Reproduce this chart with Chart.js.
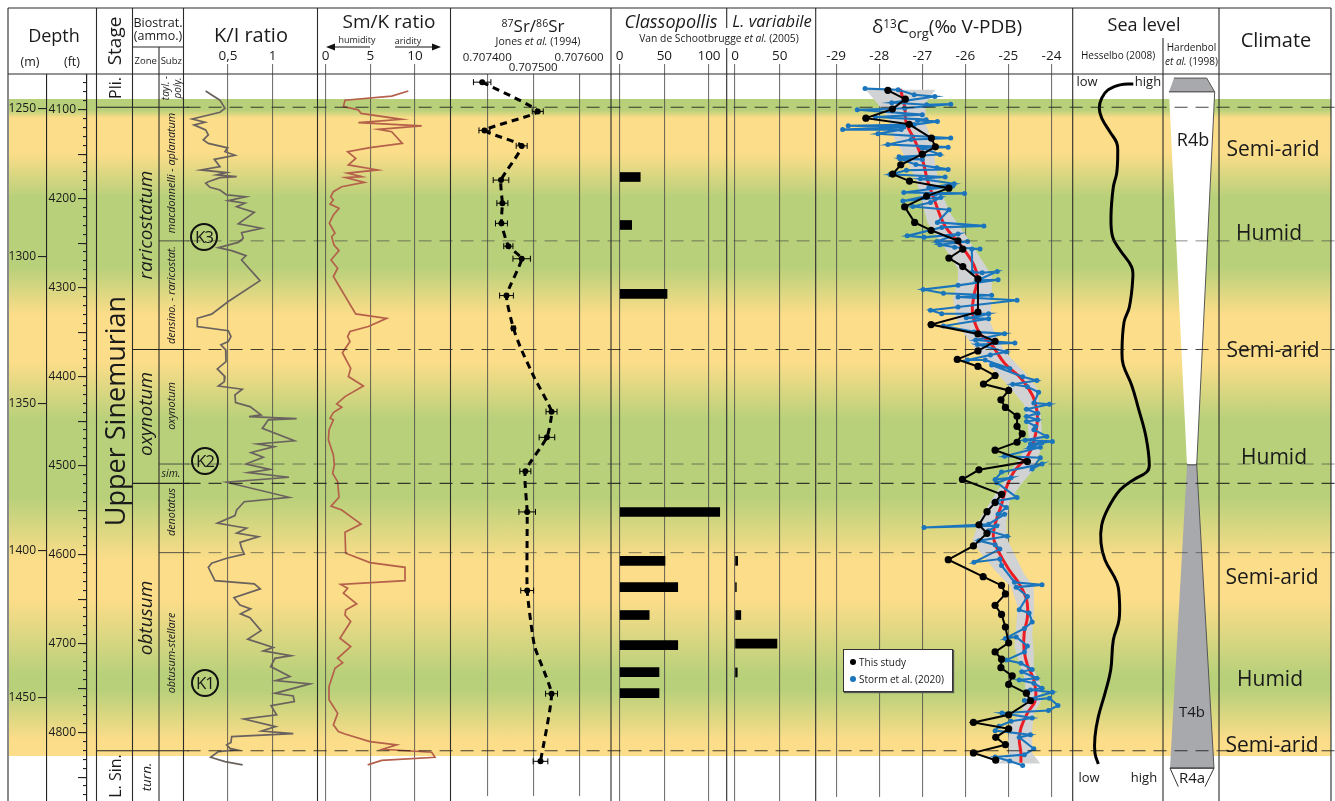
<!DOCTYPE html>
<html><head><meta charset="utf-8">
<script src="https://cdn.jsdelivr.net/npm/chart.js@4"></script>
<style>
html,body{margin:0;padding:0;background:#fff;overflow:hidden}
#page{position:relative;width:1335px;height:801px;font-family:"Open Sans",sans-serif;color:#1a1a1a;overflow:hidden}
#page canvas{position:absolute}
#bands{position:absolute;left:9px;top:99px;width:1322px;height:657px}
svg{position:absolute;left:0;top:0}
.t{position:absolute;white-space:nowrap;transform:translate(-50%,-50%);line-height:1.05;text-align:center}
.k{position:absolute;width:24px;height:24px;border:2px solid #111;border-radius:50%;text-align:center;line-height:24px;font-size:17px;letter-spacing:-1px;transform:translate(-50%,-50%)}
#legend{position:absolute;left:843px;top:649px;width:108px;height:41px;background:#fff;border:1px solid #333;box-shadow:1px 1px 1px #555;font-size:10px}
#legend div{position:absolute;left:15px;white-space:nowrap}
#legend i{position:absolute;left:-9px;top:4px;width:6px;height:6px;border-radius:50%}
</style></head><body><div id="page"><div id="bands"></div></div>
<script>
// ---------- depth scale (metres, feet) ----------
const depthTicksM=[1250,1300,1350,1400,1450];
// ---------- K/I ratio ----------
const kiTicks=[0.5,1];
const kiValue=[.25,.336,.41,.466,.41,.10,.242,.119,.25,.28,.224,.28,.496,.466,.578,.347,.41,.198,.485,.373,.597,.41,.28,.25,.298,.41,.485,.697,.503,.69,.597,.794,.615,.876,.652,.671,.615,.392,.541,.701,.652,.858,.503,.317,.157,.157,.503,.533,.503,.421,.474,.477,.38,.466,.459,.392,.66,.578,.585,.746,.869,.735,1.268,.951,.884,1.242,.831,1.018,.757,.895,.701,.969,.727,1.182,.485,1.182,.682,.597,.578,.38,.615,.708,.597,.839,.634,.652,.682,.485,.317,.28,.354,.794,.861,.567,.634,.753,.641,.746,.869,.72,1.007,.895,1.204,1.025,.977,1.193,1.033,1.417,1.025,1.23,1.242,.981,1.044,.679,1.033,.876,1.23,.541,.533,.485,.522,.597,.392,.306,.466,.664];
const kiDepth=[1243.9,1245.6,1247.0,1249.8,1251.1,1253.4,1254.5,1255.4,1257.1,1258.8,1260.5,1261.7,1263.2,1264.5,1265.7,1267.1,1269.6,1270.7,1271.6,1272.4,1273.0,1273.3,1274.7,1275.2,1276.6,1277.5,1279.2,1279.8,1281.1,1282.0,1283.2,1285.1,1289.0,1290.5,1292.0,1293.9,1295.3,1297.1,1298.1,1299.8,1301.3,1308.3,1315.4,1319.7,1321.1,1323.9,1325.3,1327.3,1329.0,1330.1,1331.8,1335.8,1338.3,1340.9,1342.6,1344.1,1345.2,1347.1,1349.7,1351.1,1353.9,1354.5,1355.2,1355.6,1358.5,1362.7,1363.8,1364.7,1366.7,1368.3,1370.6,1372.4,1373.5,1375.1,1376.8,1381.9,1383.4,1386.2,1388.1,1390.7,1391.9,1392.4,1394.1,1395.3,1397.2,1399.2,1401.2,1402.6,1404.3,1405.7,1410.2,1411.3,1413.0,1416.0,1418.5,1419.8,1421.5,1422.8,1427.2,1430.1,1432.9,1434.1,1435.7,1436.6,1439.4,1442.8,1444.2,1445.3,1448.5,1449.4,1451.3,1452.7,1455.8,1457.2,1459.8,1461.3,1462.2,1463.2,1465.2,1466.0,1467.2,1467.7,1468.3,1470.2,1471.7,1472.8];
// ---------- Sm/K ratio ----------
const smTicks=[0,5,10];
const smValue=[9.25,7.39,2.16,1.98,2.91,3.66,3.96,8.51,3.66,10.75,5.9,7.39,8.58,4.96,2.46,3.36,2.54,5.82,2.43,4.03,2.24,4.33,1.79,.86,.56,.86,.49,1.49,.86,.41,1.04,.67,.93,1.49,.6,1.34,.86,3.36,6.83,4.78,2.72,2.46,2.72,1.87,2.8,2.54,4.22,2.16,1.23,1.79,.86,.49,.86,.37,.3,.86,.97,.78,1.34,1.49,.6,1.79,3.96,2.16,2.24,4.96,8.88,8.88,1.68,2.46,1.98,3.47,2.24,2.16,2.8,1.6,2.8,1.34,1.9,1.04,.37,.37,1.34,.86,1.42,2.16,4.96,7.95,6.38,11.87,12.24,6.27,4.7];
const smDepth=[1243.9,1245.6,1247.0,1249.2,1249.8,1250.3,1251.5,1253.5,1254.6,1255.7,1256.9,1257.7,1261.7,1263.1,1264.5,1266.8,1269.0,1270.7,1271.8,1273.0,1273.3,1274.9,1276.4,1278.1,1279.8,1280.9,1282.3,1283.7,1286.0,1288.8,1292.2,1293.4,1296.2,1298.1,1301.3,1304.1,1306.9,1319.6,1321.1,1323.9,1325.6,1327.3,1329.0,1332.8,1338.1,1340.9,1344.1,1347.7,1350.2,1351.3,1353.1,1355.0,1355.6,1359.0,1362.4,1367.5,1370.9,1373.8,1376.6,1381.9,1384.9,1386.2,1391,1393.8,1400.9,1404.1,1405.7,1410.2,1411.5,1412.8,1414.5,1418.1,1420.2,1421.9,1424.1,1429.8,1432.6,1436.6,1438.1,1440,1446.2,1450.7,1455.3,1459.2,1461.5,1462.3,1464.9,1466.0,1467.5,1468.5,1470.2,1471.3,1472.8];
// ---------- 87Sr/86Sr ----------
const srTicks=[0.7074,0.7075,0.7076];
const srValue=[.707389,.70751,.707394,.707475,.70743,.707433,.707431,.707446,.707475,.707442,.707457,.70754,.70753,.707483,.707487,.707487,.70754,.707516];
const srDepth=[1240.9,1250.9,1257.4,1262.7,1274.4,1282.3,1289.2,1297.0,1301.3,1313.9,1325.1,1353.6,1362.4,1374.0,1387.9,1414.8,1450.1,1473.2];
const srError=[.000019,.000012,.000012,.000012,.000017,.000012,.000013,.00001,.000019,.000015,.000004,.000012,.000017,.000012,.000018,.000014,.000013,.000016];
const srCurveValue=[.707389,.70751,.707394,.707475,.70743,.707433,.707431,.707446,.707475,.707442,.707457,.707473,.707503,.70754,.70753,.707483,.707487,.707487,.707503,.70754,.707516];
const srCurveDepth=[1240.9,1250.9,1257.4,1262.7,1274.4,1282.3,1289.2,1297.0,1301.3,1313.9,1325.1,1331.9,1342.1,1353.6,1362.4,1374.0,1387.9,1414.8,1433.8,1450.1,1473.2];
// ---------- Classopollis / L. variabile ----------
const classoTicks=[0,50,100];
const classoValue=[23,13.4,53,112,50.7,65,33,65,44,44];
const classoDepth=[1273.1,1289.4,1312.8,1386.9,1403.5,1412.4,1421.9,1432.1,1441.3,1448.4];
const lvarTicks=[0,50];
const lvarValue=[3,1.5,6.5,47,2.5];
const lvarDepth=[1403.5,1412.4,1421.9,1431.6,1441.4];
// ---------- d13C org ----------
const carbonTicks=[-29,-28,-27,-26,-25,-24];
const studyValue=[-27.8,-27.395,-27.695,-28.31,-27.305,-26.788,-26.698,-26.998,-27.5,-27.688,-27.298,-26.383,-26.9,-27.41,-27.178,-26.795,-26.173,-26.06,-26.383,-26.06,-25.708,-25.708,-26.795,-25.708,-25.31,-25.708,-26.188,-25.708,-25.31,-25.58,-24.995,-25.175,-25.07,-24.8,-24.8,-24.68,-24.8,-25.31,-24.56,-25.685,-26.068,-25.16,-25.31,-25.498,-25.685,-25.498,-25.813,-26.398,-25.588,-25.16,-25.07,-25.31,-25.16,-25.07,-24.995,-25.31,-25.16,-25.175,-24.913,-24.995,-24.583,-24.486,-24.995,-25.813,-24.995,-25.295,-25.07,-25.813,-25.295];
const studyDepth=[1243.7,1246.7,1250.1,1253.2,1255.3,1260,1263,1265.5,1269.1,1272.3,1274.7,1277.1,1279.8,1283.5,1288.8,1291.5,1295.1,1297.9,1301.0,1303.9,1308.1,1319.4,1323.7,1326.9,1329.4,1332.7,1335.6,1338,1341.1,1344,1346.2,1349.4,1352,1355,1358.5,1361,1363.9,1366.6,1370.5,1373.3,1376.6,1381.7,1384.5,1387.6,1392.1,1395,1399.3,1404,1409.8,1412.8,1415.7,1419.6,1422.7,1427,1432.4,1435.5,1438,1440.9,1443.7,1446.6,1449.6,1452.2,1457,1459.6,1461.8,1464.7,1467.2,1470,1472.5];
const stormValue=[-28.33,-27.56,-27.19,-26.71,-27.71,-26.9,-26.34,-27.41,-28.51,-27.0,-28.09,-26.91,-27.11,-26.65,-27.19,-28.72,-27.43,-28.85,-27.49,-28.03,-26.34,-27.26,-27.8,-26.4,-27.0,-26.59,-27.54,-27.0,-27.52,-27.15,-26.66,-26.4,-27.37,-27.75,-26.47,-27.04,-26.26,-26.85,-26.29,-27.43,-26.02,-26.7,-27.45,-26.57,-26.81,-27.22,-26.38,-26.65,-25.57,-26.55,-27.35,-26.96,-26.17,-26.66,-25.95,-26.59,-26.25,-25.66,-25.85,-25.84,-25.61,-25.26,-25.72,-25.24,-26.17,-26.98,-26.51,-25.39,-26.17,-24.8,-26.17,-26.81,-26.55,-25.46,-25.76,-25.98,-25.46,-26.51,-25.8,-25.09,-25.76,-24.85,-25.72,-25.05,-25.42,-25.95,-25.54,-24.97,-25.39,-24.67,-24.34,-24.9,-24.56,-24.3,-24.41,-24.05,-24.58,-24.32,-24.58,-24.32,-24.58,-24.37,-24.41,-24.11,-24.61,-23.98,-24.49,-24.22,-24.52,-24.26,-25.09,-24.26,-24.45,-24.22,-25.16,-25.31,-24.94,-25.27,-24.8,-25.31,-25.05,-25.24,-25.09,-25.46,-26.96,-25.27,-25.46,-25.03,-25.69,-25.31,-25.2,-25.8,-25.2,-25.16,-24.86,-24.22,-24.82,-24.56,-24.75,-24.52,-24.45,-24.63,-25.07,-24.82,-24.56,-24.63,-25.05,-24.71,-24.45,-24.69,-24.34,-24.75,-24.41,-24.22,-24.49,-23.98,-24.63,-24.05,-23.85,-24.07,-25.15,-24.45,-24.94,-25.22,-25.31,-24.49,-24.75,-24.41,-24.63,-25.31,-24.97,-24.67];
const stormDepth=[1243.1,1243.5,1245.2,1245.8,1247.9,1248.6,1248.4,1249.8,1250.3,1252.0,1252.8,1253.7,1254.0,1254.3,1255.4,1255.8,1256.2,1257.1,1257.1,1258.5,1260,1260.5,1262.2,1263.1,1263.4,1265.6,1266.4,1267.3,1267.1,1269,1270.1,1270.7,1271,1272.4,1273.3,1273.9,1275.6,1277,1276.4,1278.6,1278.9,1279.2,1281.5,1280.3,1282,1283.4,1284.5,1288.8,1290,1290.5,1293.4,1293.9,1292.8,1295.3,1295.3,1296.4,1297.3,1297.9,1297.9,1305.8,1306,1305.6,1308.6,1308.4,1310.3,1311.7,1313,1313.7,1314.3,1315.4,1317.7,1318.8,1320,1320,1321.1,1321.4,1321.7,1324.2,1326.2,1326.8,1329,1330,1330.5,1333,1334.1,1335.8,1335.8,1338.7,1337.5,1341.5,1342.8,1344.1,1344.9,1346.8,1350.5,1350.9,1352.6,1354,1355.1,1356.2,1356.8,1358.5,1359.6,1361.9,1363.2,1363.6,1364.5,1364.1,1365.8,1365.6,1368.7,1369.2,1373,1371.3,1374.1,1376.6,1376,1377.7,1382.8,1384,1386.2,1388.5,1388.5,1391.9,1393,1392.4,1394.1,1396,1397.5,1398.9,1400.4,1404.9,1403.8,1406,1411.7,1412.6,1413.4,1416.6,1421.1,1422.2,1425.3,1427.5,1430.9,1430.4,1433.5,1435.5,1438.3,1439.4,1441.5,1442.3,1444.5,1445.1,1446.2,1447.9,1448.5,1449.3,1452.1,1451.3,1453.8,1455.5,1456.4,1458.1,1459.2,1460.9,1462.4,1463.8,1464.7,1468.6,1470.6,1471.4,1472.8,1474.3];
const trendValue=[-27.508,-27.41,-27.373,-27.185,-26.998,-26.885,-26.698,-26.473,-26.098,-25.798,-25.723,-25.798,-25.835,-25.685,-25.385,-25.086,-24.711,-24.448,-24.336,-24.336,-24.411,-24.56,-24.86,-25.048,-25.16,-25.31,-25.348,-25.198,-24.973,-24.748,-24.576,-24.56,-24.636,-24.636,-24.56,-24.411,-24.373,-24.56,-24.711,-24.748,-24.711,-24.711];
const trendDepth=[1243.3,1249.2,1254.9,1260.5,1267.3,1274.1,1282,1290,1296.8,1303.5,1308.1,1313.7,1319.4,1326.2,1330.7,1337,1342,1347.7,1353.4,1357.9,1363.6,1368.7,1373.7,1379.4,1385.1,1391.9,1396.4,1402.1,1407.7,1412.3,1417.9,1423.6,1429.2,1434.9,1440,1445.1,1451.9,1456.4,1461.5,1465.5,1470,1473.4];
const envelopeValue=[-28.31,-28.048,-27.785,-27.673,-27.41,-27.148,-26.998,-26.885,-26.51,-26.173,-26.173,-26.285,-26.21,-26.06,-25.8,-25.46,-25.01,-24.636,-24.56,-24.523,-24.786,-25.048,-25.31,-25.685,-25.835,-25.685,-25.31,-24.935,-24.786,-24.823,-24.86,-24.748,-24.636,-24.598,-24.673,-24.973,-25.01,-24.973,-25.235,-24.261,-24.448,-24.448,-24.411,-24.223,-24.261,-24.411,-24.411,-24.448,-24.411,-24.411,-24.636,-24.86,-25.048,-25.048,-24.973,-24.711,-24.448,-24.261,-24.223,-24.261,-24.336,-24.636,-24.935,-25.235,-25.423,-25.385,-25.385,-25.685,-25.985,-26.36,-26.548,-26.698,-26.735,-26.923,-26.923,-26.698];
const envelopeDepth=[1243.5,1248.1,1253.2,1259.4,1266.2,1274.1,1282.0,1288.8,1296.8,1304.7,1308.1,1314.9,1321.7,1326.2,1331.3,1337.5,1344.3,1351.1,1356.8,1363.6,1370.4,1376.0,1381.7,1390.7,1397.5,1400.9,1407.7,1413.4,1420.2,1427,1433.8,1439.4,1444,1449.6,1455.3,1460.9,1466.6,1470,1473.6,1473.6,1470,1462,1456.4,1451.9,1446.2,1441.7,1436,1429.2,1421.3,1413.4,1408.9,1402.1,1396.4,1390.7,1383.9,1378.3,1373.8,1367,1360.2,1353.4,1345.4,1339.8,1335.3,1329.6,1322.8,1312.6,1307,1300.1,1293.4,1285.4,1278.6,1269.6,1262.8,1254.9,1248.1,1243.5];
// ---------- sea level (0 = low, 1 = high) ----------
const seaValue=[.67,.522,.389,.319,.292,.319,.411,.486,.497,.486,.448,.422,.441,.522,.652,.663,.626,.567,.544,.559,.652,.726,.811,.848,.819,.67,.522,.392,.319,.311,.356,.486,.514,.511,.448,.419,.356,.281,.244,.244,.281];
const seaDepth=[1241.5,1241.8,1243.5,1246.3,1249.7,1253.1,1257.8,1261.5,1264.9,1271.7,1276.5,1286.7,1293.5,1297.9,1303.7,1308.1,1317.3,1322.4,1332.9,1337,1343.8,1351.6,1361.4,1370.9,1373.3,1376,1379.4,1385.5,1391.3,1397.4,1403.2,1410.7,1415.8,1423.6,1430.4,1440.6,1448.4,1456.5,1463.3,1468.8,1472.5];
// ---------- Hardenbol sequence wedges (relative half-width) ----------
const capWidth=[-.607,.56,.847,-.786];
const capDepth=[1239.5,1239.5,1244.2,1244.2];
const r4bWidth=[-.786,.847,.204,-.143];
const r4bDepth=[1244.2,1244.2,1370.9,1370.9];
const t4bWidth=[-.143,.204,.821,-.75];
const t4bDepth=[1370.9,1370.9,1473.9,1473.9];
const r4aWidth=[-.454,-.75,.821,.5];
const r4aDepth=[1480.2,1473.9,1473.9,1480.2];
// ---------- stratigraphic boundaries ----------
const boundaryMajor=[1249.4,1331.7,1377.2,1468];
const boundaryMinor=[1294.8,1370.6,1400.7];

// ----- layout -----
const PLOT_TOP=74, PLOT_BOTTOM=801, HEAD=34;
const depthMin=1238.11, depthMax=1485.07, ftMin=4060, ftMax=4876.9;
const page=document.getElementById('page');
const zip=(a,b)=>a.map((v,i)=>({x:v,y:b[i]}));
const GREEN='#b8d07a',YEL='#fcdd89';
document.getElementById('bands').style.background='linear-gradient(to bottom,'+
 [[99,GREEN],[110,GREEN],[118,YEL],[153,YEL],[197,GREEN],[267,GREEN],[315,YEL],[362,YEL],[420,GREEN],[497,GREEN],[560,YEL],[600,YEL],[675,GREEN],[690,GREEN],[740,YEL],[756,YEL]]
 .map(s=>s[1]+' '+(s[0]-99)+'px').join(',')+')';

function addCanvas(left,top,w,h){const c=document.createElement('canvas');c.width=w;c.height=h;c.style.left=left+'px';c.style.top=top+'px';c.style.width=w+'px';c.style.height=h+'px';page.appendChild(c);return c;}
const baseOpts={responsive:false,animation:false,devicePixelRatio:1,events:[],layout:{padding:0},plugins:{legend:{display:false},tooltip:{enabled:false}}};
const yHidden={type:'linear',display:false,reverse:true,min:depthMin,max:depthMax,offset:false};

function panel(c){
 const w=c.right-c.left, top=c.axis?PLOT_TOP-HEAD:PLOT_TOP, h=PLOT_BOTTOM-top;
 const xMin=c.val+(c.left-c.at)/c.per, xMax=c.val+(c.right-c.at)/c.per;
 const x=c.axis?{type:'linear',display:true,min:xMin,max:xMax,position:'top',offset:false,
  border:{display:false},
  grid:{color:c.gridColor||'rgba(70,70,70,.75)',lineWidth:1.1,tickLength:c.tickLen===undefined?10:c.tickLen,drawOnChartArea:true},
  afterBuildTicks:s=>{s.ticks=(c.ticks||[]).map(v=>({value:v}));},
  afterFit:s=>{s.height=HEAD;s.paddingLeft=0;s.paddingRight=0;},
  ticks:{autoSkip:false,maxRotation:0,minRotation:0,color:'#1a1a1a',padding:c.pad===undefined?0:c.pad,
   font:{family:'"Open Sans"',size:c.size||13.5,lineHeight:c.lh||1.2},callback:c.fmt||(v=>String(v))}}
  :{type:'linear',display:false,min:xMin,max:xMax,offset:false};
 return new Chart(addCanvas(c.left,top,w,h),{type:c.type||'scatter',data:{datasets:c.datasets},
  options:Object.assign({},baseOpts,c.bar?{indexAxis:'y'}:{},{scales:{x,y:yHidden}})});
}
const line=(data,color,width,extra)=>Object.assign({data,borderColor:color,borderWidth:width,showLine:true,pointRadius:0,tension:0,fill:false},extra||{});

// depth axes
function depthAxis(left,width,axisW,min,max,tickOpts,tickLen){
 new Chart(addCanvas(left,PLOT_TOP,width,PLOT_BOTTOM-PLOT_TOP),{type:'scatter',data:{datasets:[]},options:Object.assign({},baseOpts,{scales:{
  x:{type:'linear',display:false,min:0,max:1},
  y:{type:'linear',position:'left',reverse:true,min,max,offset:false,
   border:{display:true,color:'#222',width:1.1},
   grid:{drawOnChartArea:false,color:'#222',lineWidth:1.1,tickLength:tickLen},
   afterFit:s=>{s.width=axisW;s.paddingTop=0;s.paddingBottom=0;},
   ...tickOpts}}})});
}
depthAxis(0,48,47,depthMin,depthMax,{afterBuildTicks:s=>{s.ticks=depthTicksM.map(v=>({value:v}));},ticks:{autoSkip:false,padding:2,color:'#1a1a1a',font:{family:'"Open Sans"',size:12},callback:v=>String(v)}},9);
depthAxis(48,40,39,ftMin,ftMax,{ticks:{stepSize:50,includeBounds:false,autoSkip:false,padding:2,color:'#1a1a1a',font:{family:'"Open Sans"',size:12},callback:v=>v%100===0?String(v):''}},9);
depthAxis(48,40,39,ftMin,ftMax,{ticks:{stepSize:10,includeBounds:false,autoSkip:false,padding:0,color:'#1a1a1a',font:{size:1},callback:()=>''}},4);

panel({axis:true,left:184,right:318,at:228,val:.5,per:89.4,ticks:kiTicks,fmt:v=>v===0.5?'0,5':String(v),
 datasets:[line(zip(kiValue,kiDepth),'#6a625e',1.7)]});
panel({axis:true,left:318,right:451,at:325.7,val:0,per:8.93,ticks:smTicks,
 datasets:[line(zip(smValue,smDepth),'#b5604a',1.7)]});
const whisker=[];srValue.forEach((v,i)=>{whisker.push({x:v-srError[i],y:srDepth[i]},{x:v+srError[i],y:srDepth[i]},{x:null,y:null});});
panel({axis:true,left:451,right:611,at:484.3,val:.7074,per:490000,ticks:srTicks,tickLen:0,pad:1,size:11.5,lh:.87,
 fmt:v=>Math.abs(v-0.7075)<1e-7?['',v.toFixed(6)]:[v.toFixed(6),''],
 datasets:[
  line(zip(srValue,srDepth),'#000',0,{showLine:false,pointRadius:3,pointBackgroundColor:'#000',pointBorderWidth:0}),
  line(whisker,'#000',1,{pointRadius:3,pointStyle:'line',pointRotation:90,pointBorderColor:'#000',pointBorderWidth:1}),
  line(zip(srCurveValue,srCurveDepth),'#000',3,{borderDash:[7,5],tension:.15})
 ]});
const barSet=(v,d)=>[{data:zip(v,d),backgroundColor:'#000',barThickness:9}];
panel({axis:true,bar:true,type:'bar',left:611,right:727,at:619.7,val:0,per:.893,ticks:classoTicks,datasets:barSet(classoValue,classoDepth)});
panel({axis:true,bar:true,type:'bar',left:727,right:816,at:735,val:0,per:.893,ticks:lvarTicks,datasets:barSet(lvarValue,lvarDepth)});
panel({axis:true,left:816,right:1073,at:832.7,val:-29,per:44.45,ticks:carbonTicks,
 datasets:[
  line(zip(studyValue,studyDepth),'#000',2,{pointRadius:3.6,pointBackgroundColor:'#000',pointBorderWidth:0}),
  line(zip(stormValue,stormDepth),'#1b75bc',2.1,{pointRadius:2.5,pointBackgroundColor:'#1b75bc',pointBorderWidth:0}),
  line(zip(trendValue,trendDepth),'#ee1c25',3,{tension:.4}),
  line(zip(envelopeValue,envelopeDepth),'rgba(0,0,0,0)',0,{backgroundColor:'#d0d2d3',fill:'shape'})
 ]});
panel({left:1073,right:1163,at:1073,val:0,per:90,datasets:[line(zip(seaValue,seaDepth),'#000',3,{tension:.4})]});
const hEdge='#555';
panel({left:1163,right:1219,at:1191,val:0,per:28,datasets:[
  line(zip(r4aWidth,r4aDepth),'#333',1),
  line(zip(t4bWidth,t4bDepth),hEdge,1,{backgroundColor:'#a7a9ac',fill:'shape'}),
  line(zip(r4bWidth,r4bDepth),hEdge,1,{backgroundColor:'#fff',fill:'shape'}),
  line(zip(capWidth,capDepth),hEdge,1,{backgroundColor:'#a7a9ac',fill:'shape'})
 ]});

// boundaries: dashed across the panels, solid in the zone columns
const bSets=[];
boundaryMajor.forEach((d,i)=>{
  bSets.push(line([{x:.1405,y:d},{x:1,y:d}],'rgba(20,20,20,.8)',1.2,{borderDash:[13,8]}));
  bSets.push(line([{x:(i===0||i===3)?.0722:.0993,y:d},{x:.1415,y:d}],'#222',1.2));
});
boundaryMinor.forEach(d=>{
  bSets.push(line([{x:.1405,y:d},{x:1,y:d}],'rgba(60,60,60,.6)',1,{borderDash:[13,8]}));
  bSets.push(line([{x:.1191,y:d},{x:.1415,y:d}],'rgba(50,50,50,.8)',1));
});
new Chart(addCanvas(0,PLOT_TOP,1335,PLOT_BOTTOM-PLOT_TOP),{type:'scatter',data:{datasets:bSets},options:Object.assign({},baseOpts,{scales:{x:{type:'linear',display:false,min:0,max:1,offset:false},y:yHidden}})});

// frame
const NS='http://www.w3.org/2000/svg';
const svg=document.createElementNS(NS,'svg');svg.setAttribute('width',1335);svg.setAttribute('height',801);
const seg=[[8,8,1331,8],[8,74,1331,74],[8,8,8,801],[96.5,8,96.5,801],[132.5,8,132.5,801],[159,47,159,801],[183.5,8,183.5,801],[132.5,47,183.5,47],
 [317.5,8,317.5,801],[450.5,8,450.5,801],[611,8,611,801],[726.7,8,726.7,28],[726.7,48,726.7,801],[815.7,8,815.7,801],[1072.7,8,1072.7,801],[1163,38,1163,801],[1219,8,1219,801],[1331,8,1331,801]];
let s='';seg.forEach(a=>{s+=`<line x1="${a[0]}" y1="${a[1]}" x2="${a[2]}" y2="${a[3]}" stroke="#2a2a2a" stroke-width="1.1"/>`;});
s+='<path d="M370 47H332M395 47H434" stroke="#111" stroke-width="1"/><path d="M326 47l9-3.5v7zM441 47l-9-3.5v7z" fill="#111"/>';
svg.innerHTML=s;page.appendChild(svg);

// text
const sup=t=>`<span style="font-size:.62em;position:relative;top:-.45em">${t}</span>`;
const sub=t=>`<span style="font-size:.68em;position:relative;top:.4em">${t}</span>`;
const labels=[
 ['Depth',54,35,18],['(m)',30,62,12.5],['(ft)',72,62,12.5],['Stage',115,41,19,1],
 ['Biostrat.',158,22.5,12.5],['(ammo.)',158,36,12.5],['Zone',145.7,60.5,9.5],['Subz',171.3,60.5,9.5],
 ['K/I ratio',251,34,20],['Sm/K ratio',389,22,19],['humidity',357,40,9],['aridity',408,41,9],
 [sup('87')+'Sr/'+sup('86')+'Sr',533,26,17],['Jones <i>et al.</i> (1994)',538,42,10.5],
 ['<i>Classopollis</i>',671,21,18],['<i>L. variabile</i>',772,21,16.5],['Van de Schootbrugge <i>et al.</i> (2005)',719,38,10.3],
 ['δ'+sup('13')+'C'+sub('org')+'(‰ V-PDB)',947,27,19],['Sea level',1144,24,18],['Hesselbo (2008)',1118,55,10],
 ['Hardenbol',1191.5,47,10],['<i>et al.</i> (1998)',1191.5,61,10],['Climate',1276,39,20],
 ['Pli.',115,88,16,1],['L. Sin.',115,776,16,1],['Upper Sinemurian',115,411,27,1],
 ['<i>raricostatum</i>',146,225,19,1],['<i>oxynotum</i>',146,414,19,1],['<i>obtusum</i>',146,618,19,1],['<i>turn.</i>',146,777,13.5,1],
 ['<i>tayl. -</i>',165,88,10,1],['<i>poly.</i>',176.5,88,10,1],['<i>macdonnelli - aplanatum</i>',171,173,10.8,1],['<i>densino. - raricostat.</i>',171,295,10.8,1],
 ['<i>oxynotum</i>',171,406,10.8,1],['<i>sim.</i>',171,474,10.5],['<i>denotatus</i>',171,512,10.8,1],['<i>obtusum-stellare</i>',171,653,10.8,1],
 ['low',1087,82,13],['high',1148,82,13],['low',1089,778,13],['high',1144,778,13],
 ['R4b',1193,139,18],['T4b',1192,712,15],['R4a',1192,778,15],
 ['Semi-arid',1273,148,21],['Humid',1269,232,21],['Semi-arid',1273,349,21],['Humid',1274,456,21],['Semi-arid',1272,576,21],['Humid',1270,678,21],['Semi-arid',1272,744,21]
];
labels.forEach(l=>{const d=document.createElement('div');d.className='t';d.innerHTML=l[0];d.style.left=l[1]+'px';d.style.top=l[2]+'px';d.style.fontSize=l[3]+'px';
 if(l[4])d.style.transform='translate(-50%,-50%) rotate(-90deg)';page.appendChild(d);});
[['K3',204,237],['K2',205,461],['K1',205,683]].forEach(k=>{const d=document.createElement('div');d.className='k';d.textContent=k[0];d.style.left=k[1]+'px';d.style.top=k[2]+'px';page.appendChild(d);});
const lg=document.createElement('div');lg.id='legend';
lg.innerHTML='<div style="top:5px">This study<i style="background:#000"></i></div><div style="top:22px">Storm et al. (2020)<i style="background:#1b75bc"></i></div>';
page.appendChild(lg);
</script></body></html>
